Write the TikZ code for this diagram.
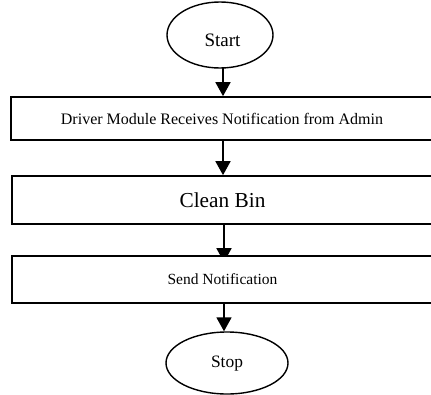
\documentclass[tikz,border=0pt]{standalone}
\usepackage{fontspec}
\setmainfont{Liberation Serif}
\usetikzlibrary{shapes.geometric,arrows.meta,backgrounds}
\begin{document}
\begin{tikzpicture}[x=1pt,y=-1pt,
  term/.style={ellipse,draw=black,line width=1.4pt,fill=white,inner sep=0pt},
  procbox/.style={rectangle,draw=black,line width=1.7pt,fill=white,inner sep=0pt},
  flow/.style={line width=1.7pt,-{Triangle[width=15pt,length=14pt]}}]
\useasboundingbox (0,0) rectangle (431,394);
\node[term,minimum width=106pt,minimum height=66pt] (start) at (220,35) {};
\node[font=\fontsize{19}{22}\selectfont,inner sep=0pt] (startlbl) at ([xshift=2.5pt,yshift=-5pt]start.center) {Start};
\node[procbox,minimum width=422pt,minimum height=43pt,font=\fontsize{16}{19}\selectfont] (b1) at (222,118.5) {Driver Module Receives Notification from Admin};
\node[procbox,minimum width=421pt,minimum height=48pt,font=\fontsize{21.3}{24}\selectfont] (b2) at (222.5,200) {Clean Bin};
\node[procbox,minimum width=421pt,minimum height=47pt,font=\fontsize{15.5}{18}\selectfont] (b3) at (222.5,279.5) {Send Notification};
\node[term,minimum width=122pt,minimum height=62pt] (stop) at (227,363) {};
\node[font=\fontsize{17.4}{20}\selectfont,inner sep=0pt] (stoplbl) at ([yshift=-1pt]stop.center) {Stop};
\coordinate (s1) at (223,68);
\coordinate (a1) at (223,140);
\coordinate (a2) at (224,224);
\coordinate (a3) at (224,303);
\begin{scope}[on background layer]
\draw[flow] (s1) -- (s1 |- b1.north);
\draw[flow] (a1) -- (a1 |- b2.north);
\draw[flow] (a2) -- ([yshift=-7pt]a2 |- b3.north);
\draw[flow] (a3) -- (a3 |- stop.north);
\end{scope}
\end{tikzpicture}
\end{document}
